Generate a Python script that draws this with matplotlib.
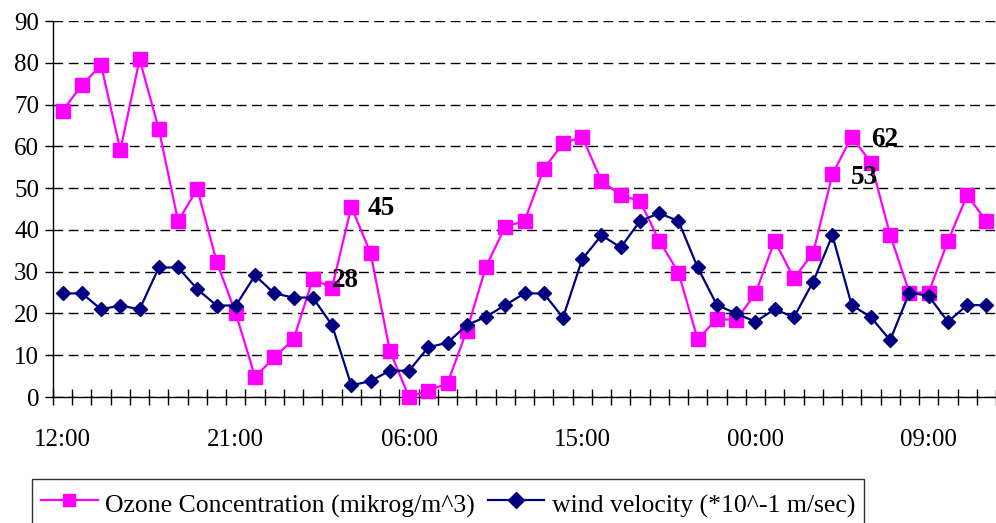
import matplotlib
matplotlib.use("Agg")
import matplotlib.pyplot as plt
import numpy as np

ozone = [68.5, 74.7, 79.4, 59.1, 80.8, 64.1, 42.1, 49.8, 32.4, 20.0,
         4.8, 9.5, 13.8, 28.2, 26.2, 45.5, 34.5, 11.1, 0.0, 1.5,
         3.3, 15.9, 31.2, 40.8, 42.1, 54.6, 60.7, 62.3, 51.7, 48.3,
         46.9, 37.4, 29.8, 13.8, 18.7, 18.4, 24.8, 37.4, 28.4, 34.5,
         53.3, 62.3, 56.1, 38.8, 25.0, 25.0, 37.3, 48.3, 42.1]
wind = [24.8, 24.8, 21.0, 21.9, 21.0, 31.0, 31.0, 25.8, 21.9, 21.9,
        29.1, 24.8, 23.8, 23.8, 17.2, 2.8, 3.8, 6.3, 6.3, 11.9,
        13.0, 17.2, 19.2, 22.0, 24.8, 24.8, 19.0, 33.0, 38.7, 35.8,
        42.1, 44.0, 42.1, 31.0, 22.0, 20.0, 18.0, 21.0, 19.1, 27.6,
        38.7, 22.0, 19.1, 13.6, 25.0, 24.2, 18.0, 22.0, 22.0]
tick_labels = ["12:00", "21:00", "06:00", "15:00", "00:00", "09:00"]
tick_idx = [0, 9, 18, 27, 36, 45]
annotations = [("28", 14.0, 27.8), ("45", 15.85, 45.2), ("53", 40.95, 52.5), ("62", 42.0, 61.6)]
labels = ["Ozone Concentration (mikrog/m^3)", "wind velocity (*10^-1 m/sec)"]

plt.rcParams['font.family'] = ['Liberation Serif', 'DejaVu Serif']

fig = plt.figure(figsize=(9.96, 5.23), dpi=100)
ax = fig.add_axes([53/996, 1 - 397/523, 1 - 53/996, (397 - 21)/523])

x = np.arange(len(ozone))
ax.plot(x, ozone, color='#FF00FF', lw=1.6, marker='s', ms=10, mfc='#FF00FF', mec='#FF00FF', label=labels[0], clip_on=False, zorder=3)
ax.plot(x, wind, color='#000080', lw=1.6, marker='D', ms=7.5, mfc='#000080', mec='#000080', label=labels[1], clip_on=False, zorder=4)

ax.set_xlim(-0.5, len(ozone) - 0.5)
ax.set_ylim(0, 90)
ax.set_yticks(np.arange(0, 91, 10))
ax.yaxis.grid(True, linestyle=(0, (7, 4)), color='black', lw=1.0)
ax.set_axisbelow(True)

ax.set_xticks(np.arange(-0.5, len(ozone), 1.0))
ax.set_xticklabels([])
ax.set_xticks(tick_idx, minor=True)
ax.set_xticklabels(tick_labels, minor=True)
ax.tick_params(axis='x', which='major', direction='inout', length=12, width=1.0)
ax.tick_params(axis='x', which='minor', length=0, pad=23, labelsize=18)
ax.tick_params(axis='y', direction='out', length=6, width=1.0, labelsize=18, pad=4)

for s in ['top', 'right']:
    ax.spines[s].set_visible(False)
for s in ['left', 'bottom']:
    ax.spines[s].set_linewidth(1.0)
    ax.spines[s].set_color('black')

for txt, xi, yi in annotations:
    ax.text(xi, yi, txt, fontsize=19.5, fontweight='bold', ha='left', va='center', zorder=5)

leg = fig.legend(loc='upper left', bbox_to_anchor=(32/996, 1 - 479/523), ncol=2,
                 frameon=True, fancybox=False, fontsize=18.5, handlelength=2.2,
                 handleheight=1.5,
                 borderaxespad=0, columnspacing=0.5, handletextpad=0.3, borderpad=0.35)
leg.get_frame().set_edgecolor('black')
leg.get_frame().set_linewidth(1.0)
for h in leg.legend_handles:
    h.set_markersize(8)

fig.savefig('out.png', dpi=100)
